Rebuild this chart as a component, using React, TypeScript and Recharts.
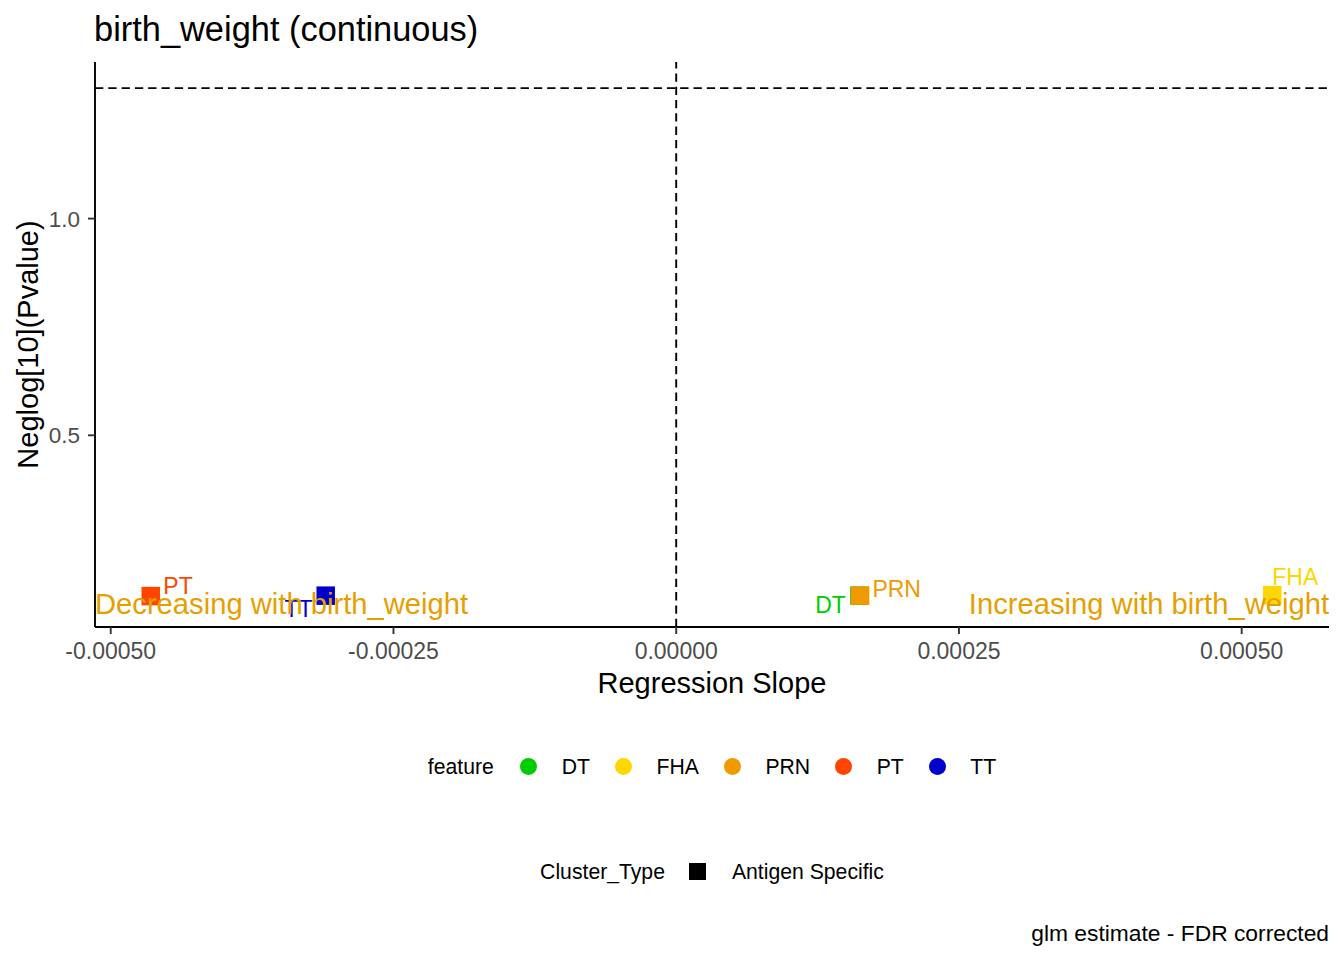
import React from 'react';
import { ScatterChart, Scatter, XAxis, YAxis, ReferenceLine } from 'recharts';

// ---------- data ----------
const features = ['DT', 'FHA', 'PRN', 'PT', 'TT'];
const slopes = [0.000162, 0.000527, 0.0001626, -0.0004646, -0.0003099];
const neglogP = [0.130, 0.131, 0.130, 0.129, 0.130];
const featureColors = ['#00CD00', '#FFD700', '#EE9A00', '#FF4500', '#0000CD'];
const clusterTypes = ['Antigen Specific'];
const xTicks = [-0.0005, -0.00025, 0, 0.00025, 0.0005];
const yTicks = [0.5, 1.0];
const xDomain = [-0.0005139, 0.0005772];
const yDomain = [0.0577, 1.3613];
const significanceLine = 1.30103; // -log10(0.05)
const annotationTexts = ['Decreasing with birth_weight', 'Increasing with birth_weight'];
const annotationY = 0.117;
const titleText = 'birth_weight (continuous)';
const xTitle = 'Regression Slope';
const yTitle = 'Neglog[10](Pvalue)';
const captionText = 'glm estimate - FDR corrected';

// label offsets (repelled text position relative to point, px)
const labelOffsets: Record<string, [number, number]> = {
  DT: [-44.2, 17.1],
  FHA: [0, -10],
  PRN: [12.3, 1.5],
  PT: [12.6, -2.5],
  TT: [-41.2, 21.5],
};

// ---------- layout ----------
const W = 1344;
const H = 960;
const PLOT_LEFT = 95;
const PLOT_TOP = 62;
const PLOT_RIGHT = 1329;
const PLOT_BOTTOM = 627;
const FONT = "'Liberation Sans', Arial, Helvetica, sans-serif";
const SQ = 18.5;

const points = features.map((f, i) => ({
  feature: f,
  x: slopes[i],
  y: neglogP[i],
  color: featureColors[i],
}));

const annotations = [
  { x: xDomain[0], y: annotationY, text: annotationTexts[0], anchor: 'start' },
  { x: xDomain[1], y: annotationY, text: annotationTexts[1], anchor: 'end' },
];

const SquareShape = (props: any) => {
  const { cx, cy, payload } = props;
  if (cx == null || cy == null) return <g />;
  return <rect x={cx - SQ / 2} y={cy - SQ / 2} width={SQ} height={SQ} fill={payload.color} />;
};

const LabelShape = (props: any) => {
  const { cx, cy, payload } = props;
  if (cx == null || cy == null) return <g />;
  const [dx, dy] = labelOffsets[payload.feature] || [0, 0];
  return (
    <text x={cx + dx} y={cy + dy} fill={payload.color} fontSize={23} fontFamily={FONT} textAnchor="start">
      {payload.feature}
    </text>
  );
};

const AnnotationShape = (props: any) => {
  const { cx, cy, payload } = props;
  if (cx == null || cy == null) return <g />;
  return (
    <text x={cx} y={cy + 12.3} fill="#E69F00" fontSize={29.2} fontFamily={FONT} textAnchor={payload.anchor}>
      {payload.text}
    </text>
  );
};

const XTick = (props: any) => {
  const { x, y, payload } = props;
  return (
    <text x={x} y={y + 23.3} textAnchor="middle" fill="#4D4D4D" fontSize={23} fontFamily={FONT}>
      {Number(payload.value).toFixed(5)}
    </text>
  );
};

const YTick = (props: any) => {
  const { x, y, payload } = props;
  return (
    <text x={x - 6} y={y + 8} textAnchor="end" fill="#4D4D4D" fontSize={22.5} fontFamily={FONT}>
      {Number(payload.value).toFixed(1)}
    </text>
  );
};

const legendRow: React.CSSProperties = {
  position: 'absolute',
  left: PLOT_LEFT,
  width: PLOT_RIGHT - PLOT_LEFT,
  height: 30,
  display: 'flex',
  alignItems: 'center',
  justifyContent: 'center',
  fontFamily: FONT,
  fontSize: 21.2,
  lineHeight: '21px',
  color: '#000',
  whiteSpace: 'nowrap',
};

export default function App() {
  const KEY = 17;
  return (
    <div style={{ position: 'absolute', left: 0, top: 0, width: W, height: H, background: '#fff' }}>
      <ScatterChart
        width={W}
        height={H}
        margin={{ top: PLOT_TOP, right: W - PLOT_RIGHT, bottom: 0, left: 0 }}
      >
        <XAxis
          type="number"
          dataKey="x"
          domain={xDomain}
          allowDataOverflow
          ticks={xTicks}
          interval={0}
          height={H - PLOT_BOTTOM}
          tickSize={7}
          tickLine={{ stroke: '#333333', strokeWidth: 1.9 }}
          axisLine={{ stroke: '#000000', strokeWidth: 1.9 }}
          tick={(p: any) => <XTick {...p} />}
        />
        <YAxis
          type="number"
          dataKey="y"
          domain={yDomain}
          allowDataOverflow
          ticks={yTicks}
          interval={0}
          width={PLOT_LEFT}
          tickSize={7}
          tickLine={{ stroke: '#333333', strokeWidth: 1.9 }}
          axisLine={{ stroke: '#000000', strokeWidth: 1.9 }}
          tick={(p: any) => <YTick {...p} />}
        />
        <ReferenceLine y={significanceLine} stroke="#000" strokeWidth={1.9} strokeDasharray="8.3 5" />
        <ReferenceLine x={0} stroke="#000" strokeWidth={1.9} strokeDasharray="8.3 5" />
        <Scatter data={points} shape={SquareShape} isAnimationActive={false} />
        <Scatter data={points} shape={LabelShape} isAnimationActive={false} />
        <Scatter data={annotations} shape={AnnotationShape} isAnimationActive={false} />
      </ScatterChart>

      <svg
        width={W}
        height={H}
        style={{ position: 'absolute', left: 0, top: 0, pointerEvents: 'none' }}
      >
        <text x={94} y={40.7} fontSize={34.4} fontFamily={FONT} fill="#000">
          {titleText}
        </text>
        <text
          x={37.5}
          y={(PLOT_TOP + PLOT_BOTTOM) / 2}
          fontSize={29}
          fontFamily={FONT}
          fill="#000"
          textAnchor="middle"
          transform={`rotate(-90, 37.5, ${(PLOT_TOP + PLOT_BOTTOM) / 2})`}
        >
          {yTitle}
        </text>
        <text x={(PLOT_LEFT + PLOT_RIGHT) / 2} y={692.7} fontSize={29} fontFamily={FONT} fill="#000" textAnchor="middle">
          {xTitle}
        </text>
        <text x={PLOT_RIGHT} y={940.5} fontSize={22.8} fontFamily={FONT} fill="#000" textAnchor="end">
          {captionText}
        </text>
      </svg>

      <div style={{ ...legendRow, top: 766 - 15 }}>
        <span style={{ marginRight: 35 - KEY / 2 }}>feature</span>
        {features.map((f, i) => (
          <React.Fragment key={f}>
            <span
              style={{
                display: 'inline-block',
                width: KEY,
                height: KEY,
                borderRadius: '50%',
                background: featureColors[i],
              }}
            />
            <span style={{ marginLeft: 33 - KEY / 2, marginRight: i < features.length - 1 ? 33.5 - KEY / 2 : 0 }}>
              {f}
            </span>
          </React.Fragment>
        ))}
      </div>

      <div style={{ ...legendRow, top: 871 - 15 }}>
        <span style={{ marginRight: 33 - KEY / 2 }}>Cluster_Type</span>
        {clusterTypes.map((c) => (
          <React.Fragment key={c}>
            <span style={{ display: 'inline-block', width: KEY, height: KEY, background: '#000' }} />
            <span style={{ marginLeft: 34 - KEY / 2 }}>{c}</span>
          </React.Fragment>
        ))}
      </div>
    </div>
  );
}
